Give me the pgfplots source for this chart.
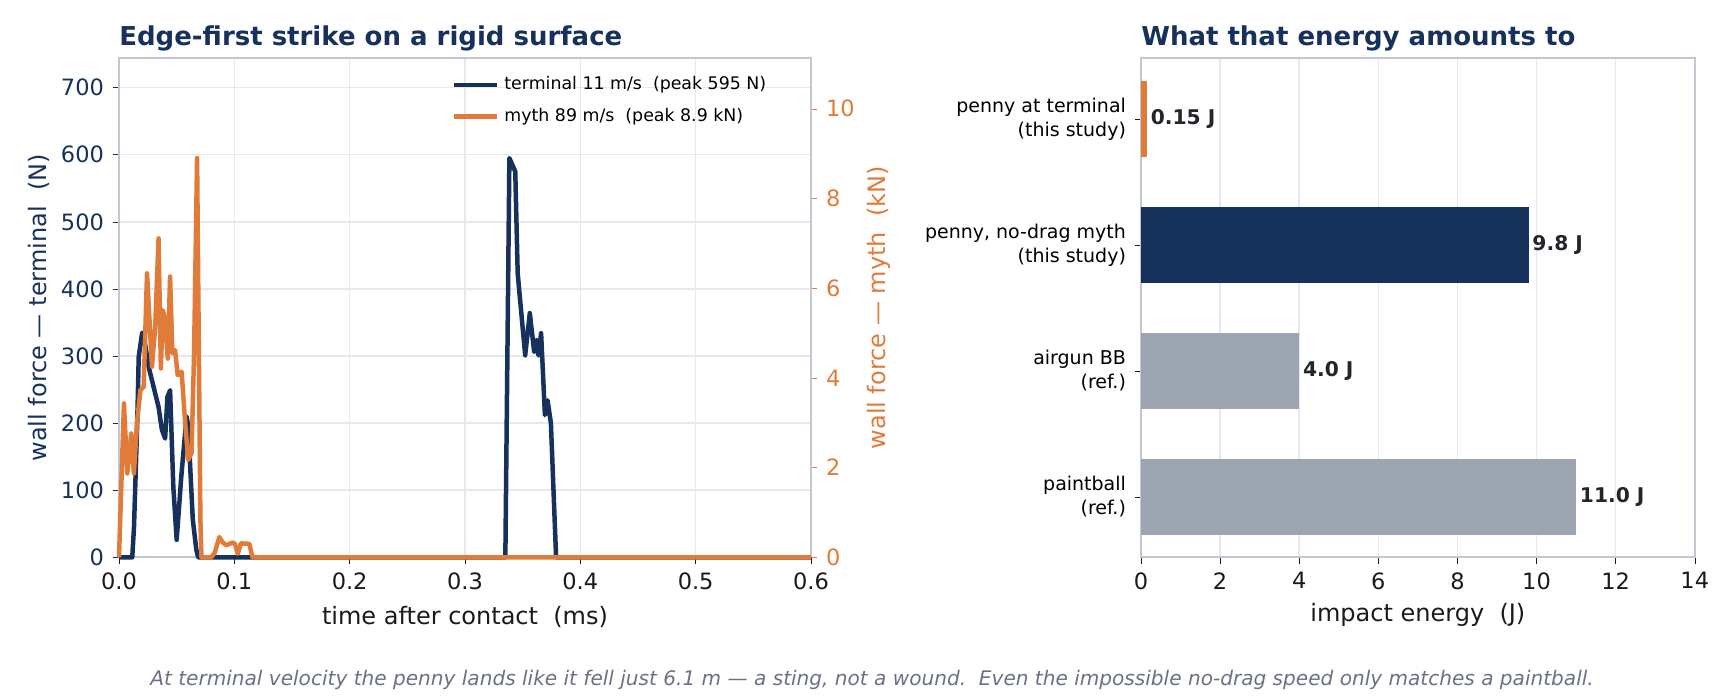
\documentclass[border=0pt]{standalone}
\usepackage{fontspec}
\setmainfont{DejaVu Sans}
\usepackage{pgfplots}
\pgfplotsset{compat=1.18}
\definecolor{navy}{HTML}{16325C}
\definecolor{orng}{HTML}{E07B39}
\definecolor{barg}{HTML}{9CA5B0}
\definecolor{spine}{HTML}{C3C7D3}
\definecolor{gridc}{HTML}{E8E8EC}
\definecolor{footc}{HTML}{6B7185}
\definecolor{tickc}{HTML}{1A1A1A}
\definecolor{labc}{HTML}{22252B}
\pgfplotsset{
  common/.style={
    scale only axis,
    tick align=outside,
    major tick length=2.5pt,
    axis line style={draw=spine, line width=0.8pt},
    /pgf/number format/assume math mode=true,
    tick label style={font=\fontsize{9}{11}\selectfont},
    label style={font=\fontsize{9.6}{11.5}\selectfont},
    title style={font=\bfseries\fontsize{10.4}{12.5}\selectfont, text=navy, at={(0,1)}, anchor=base west, yshift=-0.8pt, xshift=-3.4pt},
  }
}
\begin{document}
\begin{tikzpicture}
\useasboundingbox (0,0) rectangle (694.4pt,278.8pt);
% ---------------- left: force traces ----------------
\begin{axis}[common,
  at={(47.6pt,55.88pt)}, anchor=south west,
  width=276.8pt, height=199.6pt,
  xmin=0, xmax=0.6, ymin=0, ymax=743.75,
  xtick={0,0.1,0.2,0.3,0.4,0.5,0.6},
  xticklabels={0.0,0.1,0.2,0.3,0.4,0.5,0.6},
  ytick={0,100,200,300,400,500,600,700},
  xtick pos=left, ytick pos=left,
  xtick style={draw=tickc}, ytick style={draw=navy},
  xticklabel style={text=tickc}, yticklabel style={text=navy},
  grid=major, major grid style={draw=gridc, line width=0.6pt},
  xlabel={time after contact\ \ (ms)},
  ylabel={wall force — terminal\ \ (N)},
  xlabel style={text=tickc, at={(axis description cs:0.5,-0.119)}, anchor=center},
  ylabel style={text=navy, at={(axis description cs:-0.1156,0.5)}, anchor=center},
  title={Edge-first strike on a rigid surface},
  clip=false,
]
\addplot[navy, line width=1.8pt, line join=round] coordinates {
(0,0) (0.0115,0) (0.013,45) (0.0158,200) (0.0171,299) (0.020,334) (0.021,335)
(0.0257,284) (0.030,254) (0.0343,224) (0.0372,190) (0.040,177) (0.042,239)
(0.0443,249) (0.0471,105) (0.050,26) (0.054,120) (0.0586,210) (0.060,195)
(0.064,56) (0.067,12) (0.0686,0) (0.335,0) (0.3385,595) (0.3436,575)
(0.3457,423) (0.3522,301) (0.3562,364) (0.360,306) (0.362,324) (0.3637,301)
(0.366,334) (0.3693,212) (0.3716,234) (0.3745,200) (0.379,0) (0.6,0)
};
\end{axis}
% ---------------- left: twin axis (kN) ----------------
\begin{axis}[common,
  at={(47.6pt,55.88pt)}, anchor=south west,
  width=276.8pt, height=199.6pt,
  xmin=0, xmax=0.6, ymin=0, ymax=11.125,
  hide x axis, axis y line*=right,
  ytick={0,2,4,6,8,10},
  ytick style={draw=orng}, yticklabel style={text=orng},
  ylabel={wall force — myth\ \ (kN)},
  ylabel style={text=orng, at={(axis description cs:1.098,0.5)}, anchor=center},
  clip=false,
  legend style={at={(0.47,0.985)}, anchor=north west, draw=none, fill=none,
    font=\fontsize{6.95}{8.6}\selectfont, row sep=2pt},
  legend cell align=left,
]
\addlegendimage{navy, line width=1.8pt}
\addlegendentry{terminal 11 m/s\ \ (peak 595 N)}
\addplot[orng, line width=1.8pt, line join=round] coordinates {
(0,0) (0.0043,3.43) (0.0072,1.87) (0.0106,2.76) (0.0129,1.87) (0.0158,3.06)
(0.0186,3.73) (0.0214,3.80) (0.0243,6.33) (0.0286,4.25) (0.0314,5.14)
(0.0343,7.11) (0.0363,4.21) (0.038,5.51) (0.040,5.30) (0.0423,4.43)
(0.0443,6.26) (0.0463,4.55) (0.0486,4.62) (0.0509,4.06) (0.0543,4.14)
(0.0572,3.06) (0.060,2.17) (0.0629,2.32) (0.0651,4.55) (0.0677,8.9)
(0.0706,0.83) (0.0715,0) (0.080,0) (0.083,0.1) (0.087,0.45) (0.090,0.33)
(0.093,0.27) (0.0985,0.33) (0.1005,0.3) (0.103,0.08) (0.1057,0.31)
(0.113,0.3) (0.1157,0) (0.6,0)
};
\addlegendentry{myth 89 m/s\ \ (peak 8.9 kN)}
\end{axis}
% ---------------- right: energy bars ----------------
\begin{axis}[common,
  at={(456.4pt,55.88pt)}, anchor=south west,
  width=221.5pt, height=199.6pt,
  xbar, bar width=0.6, bar shift=0pt,
  xmin=0, xmax=14, ymin=-0.48, ymax=3.48, y dir=reverse,
  xtick={0,2,4,6,8,10,12,14},
  ytick={0,1,2,3},
  yticklabels={{penny at terminal\\(this study)},{penny, no-drag myth\\(this study)},{airgun BB\\(ref.)},{paintball\\(ref.)}},
  yticklabel style={align=right, font=\fontsize{7.6}{9.6}\selectfont, text=black},
  xticklabel style={text=tickc},
  xtick pos=left, ytick pos=left,
  tick style={draw=tickc},
  xmajorgrids, ymajorgrids=false,
  major grid style={draw=gridc, line width=0.6pt},
  xlabel={impact energy\ \ (J)},
  xlabel style={text=tickc, at={(axis description cs:0.5,-0.115)}, anchor=center},
  title={What that energy amounts to},
  point meta=explicit symbolic,
  nodes near coords,
  nodes near coords style={font=\bfseries\fontsize{8.1}{9.5}\selectfont, text=labc, anchor=west, xshift=-2pt},
]
\addplot[fill=orng, draw=none] coordinates {(0.15,0) [0.15 J]};
\addplot[fill=navy, draw=none] coordinates {(9.8,1) [9.8 J]};
\addplot[fill=barg, draw=none] coordinates {(4.0,2) [4.0 J]};
\addplot[fill=barg, draw=none] coordinates {(11.0,3) [11.0 J]};
\end{axis}
% ---------------- footer ----------------
\node[font=\itshape\fontsize{8.03}{10}\selectfont, text=footc] at (348.8pt,6.8pt)
  {At terminal velocity the penny lands like it fell just 6.1 m — a sting, not a wound.\ \ Even the impossible no-drag speed only matches a paintball.};
\end{tikzpicture}
\end{document}
